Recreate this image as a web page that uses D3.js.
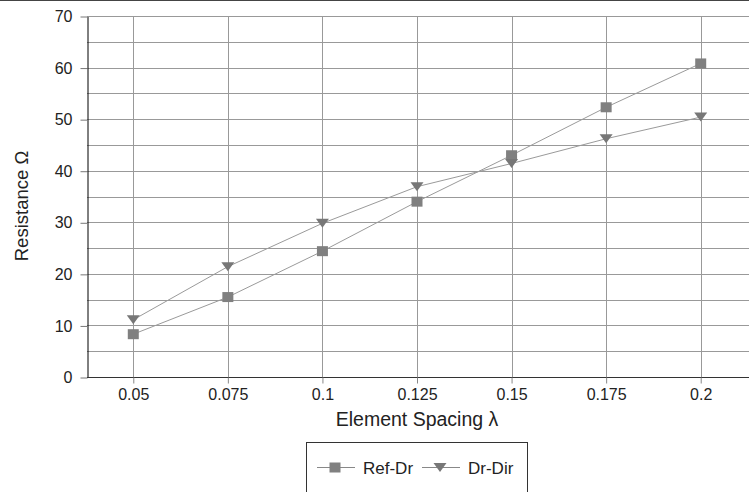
<!DOCTYPE html>
<html>
<head>
<meta charset="utf-8">
<script src="https://d3js.org/d3.v7.min.js"></script>
<style>
  body { margin: 0; background: #fff; }
  text { font-family: "Liberation Sans", Arial, sans-serif; }
</style>
</head>
<body>
<div id="chart"></div>
<script>
// data
var spacing = ["0.05", "0.075", "0.1", "0.125", "0.15", "0.175", "0.2"];
var refDr = [8.3, 15.5, 24.4, 34.0, 43.0, 52.3, 60.8];
var drDir = [11.1, 21.4, 29.8, 36.9, 41.4, 46.2, 50.4];
var yTicks = [0, 10, 20, 30, 40, 50, 60, 70];
var seriesNames = ["Ref-Dr", "Dr-Dir"];

var W = 749, H = 492;
var plot = { left: 87, right: 749, top: 16, bottom: 377 };

var svg = d3.select("#chart")
    .append("svg")
    .attr("width", W)
    .attr("height", H);

// border line across the top
svg.append("line")
    .attr("x1", 0).attr("x2", W)
    .attr("y1", 0.5).attr("y2", 0.5)
    .attr("stroke", "#444");

var x = d3.scalePoint()
    .domain(spacing)
    .range([plot.left - 1, plot.right - 1])
    .padding(0.5);

var y = d3.scaleLinear()
    .domain([0, 70])
    .range([plot.bottom, plot.top]);

// horizontal gridlines every 5
var grid = d3.range(0, 75, 5);
svg.append("g")
    .selectAll("line")
    .data(grid)
    .enter()
    .append("line")
    .attr("x1", plot.left)
    .attr("x2", plot.right)
    .attr("y1", function (d) { return Math.round(y(d)) + 0.5 })
    .attr("y2", function (d) { return Math.round(y(d)) + 0.5 })
    .attr("stroke", "#999");

// vertical gridlines at each category
svg.append("g")
    .selectAll("line")
    .data(spacing)
    .enter()
    .append("line")
    .attr("x1", function (d) { return Math.round(x(d)) + 0.5 })
    .attr("x2", function (d) { return Math.round(x(d)) + 0.5 })
    .attr("y1", plot.top)
    .attr("y2", plot.bottom)
    .attr("stroke", "#999");

// Y axis
var yAxis = svg.append("g")
    .attr("transform", "translate(" + (plot.left + 0.5) + ",0.5)")
    .call(d3.axisLeft(y).tickValues(yTicks).tickSize(7).tickPadding(8).tickSizeOuter(0));
yAxis.select(".domain").attr("stroke", "#000");
yAxis.selectAll(".tick line").attr("stroke", "#777");
yAxis.selectAll(".tick text")
    .attr("fill", "#222")
    .style("font-size", "16px")
    .style("font-family", "'Liberation Sans', Arial, sans-serif");

// X axis
var xAxis = svg.append("g")
    .attr("transform", "translate(0," + (plot.bottom + 0.5) + ")")
    .call(d3.axisBottom(x).tickSize(6).tickPadding(5).tickSizeOuter(0));
xAxis.select(".domain")
    .attr("d", "M" + plot.left + ",0H" + plot.right)
    .attr("stroke", "#333");
xAxis.selectAll(".tick line").attr("stroke", "#888");
xAxis.selectAll(".tick text")
    .attr("fill", "#222")
    .style("font-size", "16px")
    .style("font-family", "'Liberation Sans', Arial, sans-serif");

// series
var dataReady = [
    { name: "Ref-Dr", shape: d3.symbolSquare, values: refDr },
    { name: "Dr-Dir", shape: "tri", values: drDir }
];

var line = d3.line()
    .x(function (d, i) { return x(spacing[i]) })
    .y(function (d) { return y(d) });

svg.selectAll("myLines")
    .data(dataReady)
    .enter()
    .append("path")
    .attr("d", function (d) { return line(d.values) })
    .attr("fill", "none")
    .attr("stroke", "#9a9a9a")
    .attr("stroke-width", 1);

function marker(g, shape) {
    if (shape === "tri") {
        g.append("path")
            .attr("d", "M-6.5,-4.5L6.5,-4.5L0,4.5Z")
            .attr("fill", "#777");
    } else {
        g.append("rect")
            .attr("x", -5.5).attr("y", -5)
            .attr("width", 11).attr("height", 10)
            .attr("fill", "#808080");
    }
}

dataReady.forEach(function (s) {
    svg.append("g")
        .selectAll("g")
        .data(s.values)
        .enter()
        .append("g")
        .attr("transform", function (d, i) { return "translate(" + x(spacing[i]) + "," + y(d) + ")" })
        .each(function () { marker(d3.select(this), s.shape) });
});

// axis titles
svg.append("text")
    .attr("x", 417)
    .attr("y", 426)
    .attr("text-anchor", "middle")
    .attr("fill", "#222")
    .style("font-size", "19.5px")
    .text("Element Spacing λ");

svg.append("text")
    .attr("transform", "translate(28,206) rotate(-90)")
    .attr("text-anchor", "middle")
    .attr("fill", "#222")
    .style("font-size", "18.5px")
    .text("Resistance Ω");

// legend
var legend = svg.append("g");
legend.append("rect")
    .attr("x", 306.5).attr("y", 442.5)
    .attr("width", 221).attr("height", 60)
    .attr("fill", "#fff")
    .attr("stroke", "#333");

var legendX = [317, 422];
var legItems = legend.selectAll("myLegend")
    .data(dataReady)
    .enter()
    .append("g")
    .attr("transform", function (d, i) { return "translate(" + legendX[i] + ",467.5)" });
legItems.append("line")
    .attr("x1", 0).attr("x2", 38)
    .attr("stroke", "#888");
legItems.append("g")
    .attr("transform", "translate(18,0)")
    .each(function (d) { marker(d3.select(this), d.shape) });
legItems.append("text")
    .attr("x", 46)
    .attr("y", 6)
    .attr("fill", "#222")
    .style("font-size", "17px")
    .text(function (d) { return d.name });
</script>
</body>
</html>
